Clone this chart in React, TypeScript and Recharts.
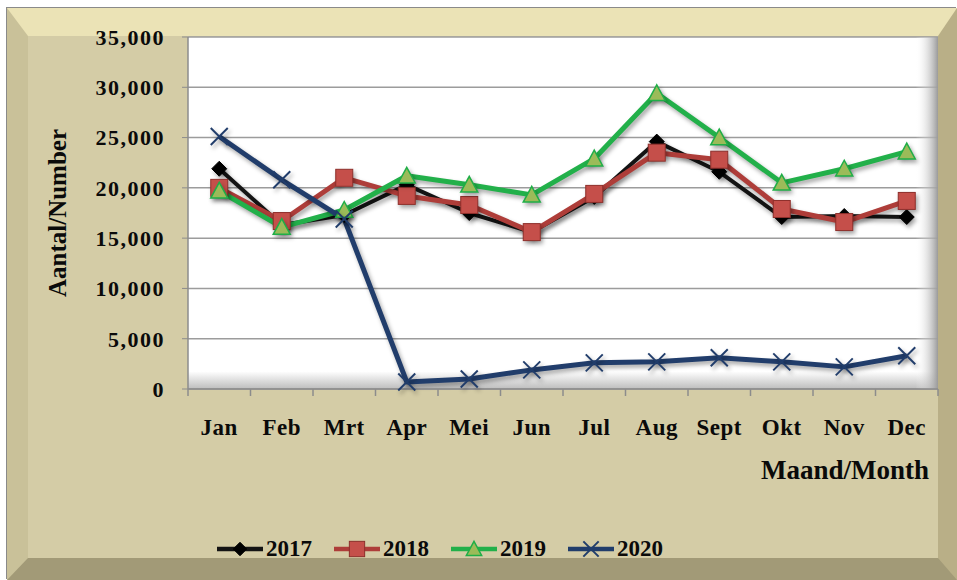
import React from 'react'
import { LineChart, Line, XAxis, YAxis, CartesianGrid } from 'recharts'

const months = ['Jan', 'Feb', 'Mrt', 'Apr', 'Mei', 'Jun', 'Jul', 'Aug', 'Sept', 'Okt', 'Nov', 'Dec']
const y2017 = [21900, 16300, 17300, 20300, 17500, 15600, 19100, 24600, 21600, 17100, 17200, 17100]
const y2018 = [20000, 16700, 21000, 19200, 18300, 15600, 19400, 23500, 22800, 17900, 16600, 18700]
const y2019 = [19700, 16100, 17800, 21200, 20300, 19300, 22900, 29400, 25000, 20500, 21900, 23600]
const y2020 = [25100, 20800, 16900, 700, 1000, 1900, 2600, 2700, 3100, 2700, 2200, 3300]
const yTicks = [0, 5000, 10000, 15000, 20000, 25000, 30000, 35000]

const FONT = "'Liberation Serif', 'Times New Roman', serif"
const X_TICK_MARGIN = 30

const data = months.map((m, i) => ({
  month: m,
  y2017: y2017[i],
  y2018: y2018[i],
  y2019: y2019[i],
  y2020: y2020[i],
}))

type MarkerKind = 'diamond' | 'square' | 'triangle' | 'cross'

const series: { key: string; name: string; color: string; width: number; marker: MarkerKind }[] = [
  { key: 'y2017', name: '2017', color: '#141414', width: 4, marker: 'diamond' },
  { key: 'y2018', name: '2018', color: '#ae3d39', width: 5, marker: 'square' },
  { key: 'y2019', name: '2019', color: '#22b04a', width: 5, marker: 'triangle' },
  { key: 'y2020', name: '2020', color: '#213d6b', width: 5, marker: 'cross' },
]

const Marker = ({ kind, cx, cy, scale = 1 }: { kind: MarkerKind; cx: number; cy: number; scale?: number }) => {
  if (cx == null || cy == null) return null
  if (kind === 'diamond') {
    const r = 7.5 * scale
    return (
      <polygon
        points={`${cx},${cy - r} ${cx + r},${cy} ${cx},${cy + r} ${cx - r},${cy}`}
        fill='#000'
        stroke='#000'
      />
    )
  }
  if (kind === 'square') {
    const s = 8.5 * scale
    return (
      <rect x={cx - s} y={cy - s} width={s * 2} height={s * 2} fill='#c54f4a' stroke='#8e2f2b' strokeWidth={1} />
    )
  }
  if (kind === 'triangle') {
    const h = 8.5 * scale
    return (
      <polygon
        points={`${cx},${cy - h} ${cx + h},${cy + h * 0.85} ${cx - h},${cy + h * 0.85}`}
        fill='#9bbb59'
        stroke='#1fae47'
        strokeWidth={1.5}
      />
    )
  }
  const r = 8.5 * scale
  return (
    <g stroke='#213d6b' strokeWidth={2}>
      <line x1={cx - r} y1={cy - r} x2={cx + r} y2={cy + r} />
      <line x1={cx - r} y1={cy + r} x2={cx + r} y2={cy - r} />
    </g>
  )
}

const makeDot = (kind: MarkerKind) => (props: any) => (
  <g key={`dot-${kind}-${props.index}`}>
    <Marker kind={kind} cx={props.cx} cy={props.cy} />
  </g>
)

// month label plus a tick mark on the band's edges (Excel "between categories" style)
const MonthTick = (props: any) => {
  const { x, y, payload } = props
  const half = payload.offset || 0
  const axisY = y - X_TICK_MARGIN
  const isLast = payload.index === months.length - 1
  return (
    <g>
      <line x1={x - half} y1={axisY} x2={x - half} y2={axisY + 7} stroke='#8c8c8c' strokeWidth={1.5} />
      {isLast && <line x1={x + half} y1={axisY} x2={x + half} y2={axisY + 7} stroke='#8c8c8c' strokeWidth={1.5} />}
      <text
        x={x}
        y={y}
        dy='0.71em'
        textAnchor='middle'
        fill='#0a0a0a'
        fontSize={23}
        fontWeight='bold'
        fontFamily={FONT}
        letterSpacing={0.5}
      >
        {payload.value}
      </text>
    </g>
  )
}

const LegendRow = () => (
  <div
    style={{
      position: 'absolute',
      left: 217,
      top: 537,
      height: 24,
      display: 'flex',
      alignItems: 'center',
      fontFamily: FONT,
      fontWeight: 'bold',
      fontSize: 23,
      lineHeight: '24px',
      color: '#0a0a0a',
    }}
  >
    {series.map((s) => (
      <div key={s.key} style={{ display: 'flex', alignItems: 'center', marginRight: 22 }}>
        <svg width={46} height={20} style={{ display: 'block' }}>
          <line x1={0} y1={10} x2={46} y2={10} stroke={s.color} strokeWidth={4.5} />
          <Marker kind={s.marker} cx={23} cy={10} scale={0.9} />
        </svg>
        <span style={{ marginLeft: 3 }}>{s.name}</span>
      </div>
    ))}
  </div>
)

export default function App() {
  return (
    <div style={{ position: 'absolute', left: 0, top: 0, width: 957, height: 580, background: '#fff' }}>
      <style>{`.recharts-line-curve, .recharts-line-dots { filter: drop-shadow(2px 3px 2px rgba(0,0,0,0.35)); }`}</style>
      <div
        style={{
          position: 'absolute',
          left: 7,
          top: 8,
          width: 950,
          height: 572,
          boxSizing: 'border-box',
          background: '#d4cca6',
          borderTop: '28px solid #ebe3b6',
          borderLeft: '21px solid #c9c199',
          borderRight: '19px solid #b9af87',
          borderBottom: '22px solid #a29a77',
          boxShadow: '-1px -1px 0 #8a8a8a',
        }}
      />
      <div style={{ position: 'absolute', left: 0, top: 0 }}>
        <LineChart
          width={957}
          height={580}
          data={data}
          margin={{ top: 37, right: 19, left: 0, bottom: 161 }}
          style={{ fontFamily: FONT }}
        >
          <defs>
            <linearGradient id='plotFill' x1='0' y1='0' x2='0' y2='1'>
              <stop offset='0%' stopColor='#ffffff' />
              <stop offset='95%' stopColor='#ffffff' />
              <stop offset='100%' stopColor='#bdbdbd' />
            </linearGradient>
            <linearGradient id='rightShade' x1='0' y1='0' x2='1' y2='0'>
              <stop offset='0%' stopColor='#ffffff' stopOpacity={0} />
              <stop offset='97%' stopColor='#ffffff' stopOpacity={0} />
              <stop offset='100%' stopColor='#9a9a9a' stopOpacity={1} />
            </linearGradient>
          </defs>
          <CartesianGrid vertical={false} fill='url(#plotFill)' stroke='#9c9c9c' strokeWidth={1.5} />
          <CartesianGrid vertical={false} horizontal={false} fill='url(#rightShade)' />
          <XAxis
            dataKey='month'
            scale='band'
            interval={0}
            height={30}
            tickSize={0}
            tickMargin={X_TICK_MARGIN}
            axisLine={{ stroke: '#8c8c8c', strokeWidth: 1.5 }}
            tick={<MonthTick />}
          />
          <YAxis
            width={188}
            domain={[0, 35000]}
            ticks={yTicks}
            interval={0}
            tickSize={6}
            tickMargin={17}
            axisLine={{ stroke: '#8c8c8c', strokeWidth: 1.5 }}
            tickLine={{ stroke: '#8c8c8c' }}
            tickFormatter={(v: number) => v.toLocaleString('en-US')}
            tick={{ fill: '#0a0a0a', fontSize: 22, fontWeight: 'bold', fontFamily: FONT, letterSpacing: 1.5 }}
            label={{
              value: 'Aantal/Number',
              angle: -90,
              position: 'insideLeft',
              offset: 57,
              style: { textAnchor: 'middle', fill: '#0a0a0a', fontSize: 25, fontWeight: 'bold', fontFamily: FONT },
            }}
          />
          {series.map((s) => (
            <Line
              key={s.key}
              dataKey={s.key}
              name={s.name}
              stroke={s.color}
              strokeWidth={s.width}
              strokeLinejoin='round'
              dot={makeDot(s.marker)}
              activeDot={false}
              isAnimationActive={false}
            />
          ))}
        </LineChart>
      </div>
      <div
        style={{
          position: 'absolute',
          right: 28,
          top: 457,
          fontFamily: FONT,
          fontWeight: 'bold',
          fontSize: 27,
          lineHeight: '27px',
          color: '#0a0a0a',
          whiteSpace: 'nowrap',
        }}
      >
        Maand/Month
      </div>
      <LegendRow />
    </div>
  )
}
